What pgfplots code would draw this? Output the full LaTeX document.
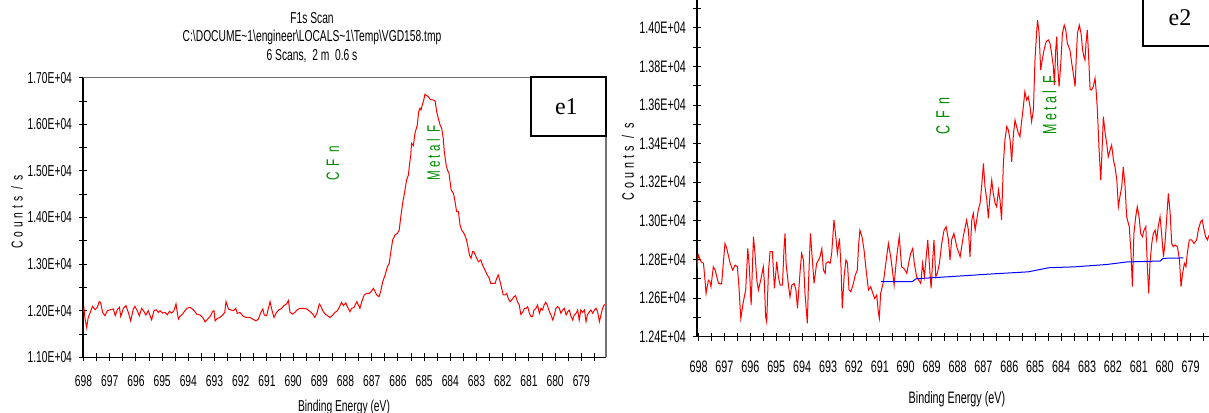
\documentclass[border=0pt]{standalone}
\usepackage{fontspec}
\setmainfont{Liberation Sans}[FakeStretch=0.65]
\newfontfamily\spaced{Liberation Sans}[FakeStretch=0.65, LetterSpace=25]
\newfontfamily\annfont{Liberation Sans}[FakeStretch=0.65, LetterSpace=18]
\newfontfamily\boxfont{Liberation Serif}
\usepackage{pgfplots}
\pgfplotsset{compat=1.18}
\definecolor{fgreen}{RGB}{0,140,0}

\pgfplotsset{
  xps/.style={
    scale only axis,
    anchor=south west,
    x dir=reverse,
    axis x line=bottom, axis y line=left,
    axis line style={-, black, line width=0.6pt},
    xtick={678,...,699},
    minor x tick num=1,
    minor y tick num=1,
    scaled ticks=false,
    tick style={black, line width=0.5pt},
    major tick length=4pt, minor tick length=4pt,
    tick align=center,
    /pgf/number format/assume math mode=true,
  }
}

\begin{document}
\begin{tikzpicture}
\useasboundingbox (0,0) rectangle (604.5pt,206pt);
\clip (0,0) rectangle (604.5pt,206pt);

% ---- e1 ----
\begin{axis}[xps,
  at={(41.5pt,27.35pt)}, width=261.35pt, height=139.8pt,
  xmin=678.07, xmax=698.02, ymin=11000, ymax=17000,
  ytick={11000,12000,...,17000},
  yticklabels={1.10E+04,1.20E+04,1.30E+04,1.40E+04,1.50E+04,1.60E+04,1.70E+04},
  xticklabel style={font=\fontsize{7.9}{9}\selectfont, yshift=-3.5pt},
  yticklabel style={font=\fontsize{7.9}{9}\selectfont},
]
\addplot[red, line width=0.5pt] coordinates {
(698.00,11964) (697.98,12037) (697.94,11819) (697.88,11638) (697.82,11855) (697.73,11979) (697.66,12094) (697.56,12022) (697.47,12073) (697.40,12196) (697.35,12181) (697.27,11964) (697.18,11892) (697.09,12000) (696.96,12022) (696.86,12037) (696.79,11892) (696.71,12022) (696.63,12073) (696.58,11877) (696.48,12051) (696.38,12109) (696.29,11964) (696.20,11783) (696.10,12037) (696.04,12094) (695.95,12000) (695.87,11892) (695.78,12051) (695.69,11979) (695.62,11906) (695.53,12000) (695.46,11892) (695.40,11805) (695.31,12000) (695.23,12022) (695.14,11964) (695.08,12000) (694.98,11950) (694.89,11964) (694.80,11913) (694.72,11986) (694.64,11950) (694.55,12000) (694.47,12145) (694.38,11819) (694.32,11877) (694.22,11928) (694.13,12000) (694.04,12058) (693.94,12073) (693.81,12022) (693.68,11928) (693.55,11906) (693.45,11855) (693.36,11761) (693.24,11834) (693.15,11892) (693.07,11986) (693.02,12000) (692.98,11783) (692.89,11834) (692.79,11855) (692.69,11906) (692.61,11964) (692.56,12196) (692.47,12037) (692.38,12015) (692.28,12000) (692.19,12051) (692.13,11942) (692.03,11964) (691.90,11877) (691.77,11855) (691.65,11855) (691.54,11819) (691.42,11783) (691.33,11819) (691.24,11950) (691.16,12037) (691.10,11906) (691.01,11892) (690.95,12037) (690.88,12196) (690.82,12037) (690.73,11855) (690.63,11964) (690.53,12022) (690.44,12051) (690.35,12109) (690.25,12145) (690.18,12218) (690.12,11964) (690.02,11928) (689.93,11964) (689.84,12022) (689.74,12051) (689.61,12051) (689.48,12037) (689.35,11979) (689.25,11928) (689.17,11855) (689.08,11964) (689.00,12145) (688.95,12109) (688.87,12000) (688.78,11928) (688.69,11892) (688.59,11855) (688.49,11906) (688.40,11964) (688.31,12000) (688.24,12073) (688.15,12181) (688.08,12109) (687.99,12167) (687.89,12037) (687.83,11979)
(687.77,12051) (687.68,12065) (687.57,12194) (687.51,12122) (687.45,12051) (687.38,12194) (687.29,12337) (687.19,12373) (687.09,12373) (687.00,12423) (686.94,12480) (686.87,12409) (686.81,12337) (686.72,12301) (686.66,12409) (686.58,12623) (686.49,12766) (686.40,12945) (686.33,13017) (686.28,13231) (686.20,13517) (686.11,13625) (686.02,13660) (685.95,13732) (685.89,14018) (685.82,14304) (685.73,14590) (685.67,14805) (685.60,14912) (685.56,15127) (685.51,15341) (685.48,15592) (685.41,15542) (685.35,15806) (685.26,15985) (685.21,16271) (685.16,16343) (685.12,16307) (685.07,16414) (685.00,16557) (684.97,16643) (684.90,16615) (684.84,16593) (684.78,16543) (684.71,16522) (684.65,16522) (684.58,16500) (684.52,16271) (684.46,16128) (684.39,15985) (684.33,15914) (684.27,15699) (684.23,15413) (684.16,15127) (684.11,15019) (684.05,14948) (683.97,14590) (683.88,14519) (683.82,14340) (683.76,14125) (683.69,14125) (683.63,13839) (683.57,13732) (683.48,13660) (683.40,13553) (683.34,13410) (683.27,13195) (683.21,13124) (683.15,13267) (683.10,13267) (683.02,13160) (682.93,13052) (682.84,13088) (682.77,12981) (682.68,12874) (682.59,12766) (682.51,12695) (682.46,12587) (682.38,12587) (682.29,12587) (682.23,12695) (682.17,12766) (682.10,12623) (682.04,12480) (681.98,12337) (681.91,12337) (681.85,12373) (681.79,12266) (681.72,12194) (681.66,12230) (681.57,12301) (681.51,12323) (681.44,12194) (681.37,12122) (681.31,11922) (681.24,11965) (681.17,12051) (681.11,12051) (681.05,12087) (680.98,11944) (680.92,11872) (680.86,11872) (680.81,12015) (680.73,12051) (680.67,12122) (680.60,11944) (680.54,12051) (680.48,12015) (680.42,12122) (680.36,12180) (680.30,12122) (680.22,11979) (680.16,11908) (680.09,11800) (680.03,11908) (679.97,12051) (679.90,12087) (679.84,12051) (679.78,11944) (679.71,12015) (679.65,12051) (679.58,11908) (679.52,11979) (679.46,12015) (679.39,11872) (679.33,11800) (679.27,11908) (679.20,11944) (679.14,12015) (679.08,11800) (679.02,12015) (678.95,11965) (678.88,12015) (678.82,11765) (678.77,11908) (678.69,11979) (678.63,12015) (678.57,11944) (678.50,12015) (678.44,12051) (678.38,11979) (678.31,11765) (678.25,11908) (678.19,12051) (678.13,12122) (678.07,12137)
};
\node[rotate=90, anchor=west, text=fgreen, font=\annfont\fontsize{9}{10}\selectfont] at (axis cs:688.48,14633) {C F n};
\node[rotate=90, anchor=west, text=fgreen, font=\annfont\fontsize{9}{10}\selectfont] at (axis cs:684.64,14633) {Metal F};
\end{axis}
\draw[black!55, line width=0.8pt] (41.5pt,167.15pt) -- (302.85pt,167.15pt) -- (302.85pt,27.35pt);
\draw[line width=1pt] (265.5pt,138pt) rectangle (302.85pt,167.65pt);
\node[font=\boxfont\fontsize{12}{12}\selectfont] at (283.2pt,152.5pt) {e1};

\node[font=\fontsize{7.9}{9}\selectfont] at (156pt,197pt) {F1s Scan};
\node[font=\fontsize{7.9}{9}\selectfont] at (156pt,187.5pt) {C:\textbackslash DOCUME\textasciitilde 1\textbackslash engineer\textbackslash LOCALS\textasciitilde 1\textbackslash Temp\textbackslash VGD158.tmp};
\node[font=\fontsize{7.9}{9}\selectfont] at (156pt,178pt) {6 Scans,\ \ 2 m\ \ 0.6 s};
\node[rotate=90, font=\spaced\fontsize{7.9}{9}\selectfont] at (8.5pt,100pt) {Counts / s};
\node[anchor=base, font=\fontsize{7.9}{9}\selectfont] at (172pt,0.5pt) {Binding Energy (eV)};

% ---- e2 ----
\begin{axis}[xps,
  at={(348.5pt,37.65pt)}, width=256pt, height=168.35pt,
  xmin=678.29, xmax=698.06, ymin=12400, ymax=14144,
  ytick={12400,12600,...,14200},
  yticklabels={1.24E+04,1.26E+04,1.28E+04,1.30E+04,1.32E+04,1.34E+04,1.36E+04,1.38E+04,1.40E+04,1.42E+04},
  xticklabel style={font=\fontsize{8.3}{9}\selectfont, yshift=-6.5pt},
  yticklabel style={font=\fontsize{8.3}{9}\selectfont},
]
\addplot[red, line width=0.5pt] coordinates {
(698.06,12754) (698.01,12823) (697.90,12788) (697.81,12780) (697.75,12693) (697.71,12624) (697.62,12693) (697.56,12685) (697.52,12659) (697.43,12762) (697.36,12745) (697.23,12676) (697.11,12673) (696.98,12883) (696.91,12857) (696.78,12780) (696.68,12745) (696.59,12771) (696.50,12762) (696.44,12659) (696.37,12495) (696.27,12581) (696.18,12642) (696.10,12857) (696.04,12762) (695.97,12564) (695.88,12918) (695.82,12831) (695.75,12693) (695.69,12642) (695.60,12693) (695.50,12762) (695.46,12685) (695.41,12503) (695.37,12477) (695.30,12737) (695.24,12840) (695.15,12840) (695.07,12650) (694.98,12788) (694.92,12711) (694.85,12667) (694.76,12667) (694.70,12857) (694.66,12935) (694.62,12780) (694.53,12667) (694.47,12607) (694.40,12667) (694.31,12676) (694.24,12642) (694.18,12547) (694.08,12737) (694.02,12831) (693.95,12797) (693.89,12624) (693.80,12469) (693.76,12659) (693.68,12935) (693.60,12788) (693.54,12676) (693.44,12780) (693.37,12797) (693.31,12814) (693.24,12857) (693.18,12745) (693.11,12728)
(693.08,12780) (692.99,12788) (692.92,12780) (692.86,12831) (692.77,13004) (692.70,12918) (692.64,12831) (692.56,12909) (692.50,12762) (692.45,12547) (692.38,12711) (692.31,12797) (692.25,12780) (692.19,12642) (692.12,12633) (692.02,12676) (691.95,12719) (691.87,12745) (691.82,12875) (691.77,12952) (691.69,12918) (691.61,12849) (691.53,12745) (691.44,12642) (691.35,12659) (691.27,12624) (691.20,12598) (691.12,12616) (691.06,12529) (691.02,12495) (690.97,12624) (690.86,12685) (690.77,12780) (690.67,12883) (690.58,12814) (690.50,12728) (690.45,12667) (690.35,12814) (690.25,12918) (690.16,12762) (690.07,12754) (689.96,12728) (689.89,12780) (689.81,12831) (689.73,12857) (689.67,12780) (689.58,12711) (689.50,12693) (689.42,12676) (689.35,12780) (689.28,12711) (689.22,12797) (689.15,12901) (689.09,12780) (689.02,12650) (688.96,12797) (688.91,12901) (688.84,12711) (688.78,12728) (688.70,12780) (688.61,12883) (688.52,12952) (688.44,12970) (688.35,12901) (688.29,12797)
(688.23,12901) (688.14,12935) (688.03,12866) (687.90,12814) (687.78,12918) (687.65,13004) (687.58,12952) (687.52,12814) (687.45,13004) (687.39,13039) (687.32,12952) (687.26,13004) (687.20,13056) (687.13,13091) (687.07,13177) (687.00,13298) (686.94,13177) (686.87,13108) (686.81,13013) (686.75,13125) (686.68,13211) (686.62,13142) (686.55,13091) (686.49,13073) (686.42,13160) (686.36,13108) (686.30,13004) (686.23,13298) (686.17,13419) (686.10,13488) (686.04,13471) (685.97,13419) (685.91,13306) (685.84,13453) (685.78,13522) (685.72,13488) (685.65,13453) (685.59,13436) (685.52,13522) (685.46,13591) (685.40,13669) (685.33,13626) (685.27,13643) (685.20,13591) (685.14,13514) (685.07,13574) (685.01,13833) (684.94,13989) (684.91,14040) (684.85,13971) (684.79,13781) (684.73,13833) (684.66,13885) (684.58,13928) (684.49,13937) (684.43,13919) (684.37,13868) (684.30,13799) (684.26,13704) (684.21,13885) (684.17,13954) (684.13,13799) (684.08,13695) (684.02,13799) (683.95,13971) (683.88,14014) (683.82,13989) (683.76,13919) (683.66,13885) (683.59,13816) (683.53,13764) (683.46,13695)
(683.42,13833) (683.37,13971) (683.30,14014) (683.23,13971) (683.17,13885) (683.12,13850) (683.08,13833) (683.04,13919) (682.99,13989) (682.95,13885) (682.88,13678) (682.82,13678) (682.76,13695) (682.69,13738) (682.65,13678) (682.60,13574) (682.54,13384) (682.47,13211) (682.43,13332) (682.37,13540) (682.30,13453) (682.24,13401) (682.18,13332) (682.11,13367) (682.05,13393) (681.98,13315) (681.92,13280) (681.85,13211) (681.79,13073) (681.73,13125) (681.66,13177) (681.60,13280) (681.53,13177) (681.47,13021) (681.37,12970) (681.30,12831) (681.25,12659) (681.19,12935) (681.12,13021) (681.06,13073) (680.99,13021) (680.93,12935) (680.86,12918) (680.80,12952) (680.73,12970) (680.67,12762) (680.62,12624) (680.57,12780) (680.50,12883) (680.44,12935) (680.37,12952) (680.31,12901) (680.25,12970) (680.18,13021) (680.12,12935) (680.05,12814) (679.99,12883) (679.92,13021) (679.86,13142) (679.79,13039) (679.73,12883) (679.67,12866) (679.60,12875) (679.51,12866) (679.43,12797) (679.37,12659) (679.31,12728) (679.24,12780) (679.18,12762) (679.13,12831) (679.05,12901) (678.96,12901) (678.87,12883) (678.77,12901) (678.69,12961) (678.61,12996) (678.55,13004) (678.48,12952) (678.42,12918) (678.35,12901) (678.29,12926)
};
\addplot[blue, line width=0.5pt] coordinates {
(690.95,12685) (689.75,12685) (689.60,12700) (688.29,12711) (686.81,12724) (685.27,12736) (684.49,12757) (683.46,12762) (682.24,12774) (681.47,12787) (680.18,12792) (680.05,12806) (679.28,12808)
};
\node[rotate=90, anchor=west, text=fgreen, font=\annfont\fontsize{9.6}{10}\selectfont] at (axis cs:688.56,13410) {C F n};
\node[rotate=90, anchor=west, text=fgreen, font=\annfont\fontsize{9.6}{10}\selectfont] at (axis cs:684.45,13410) {Metal F};
\end{axis}
\draw[line width=1pt] (571.65pt,183.15pt) rectangle (612pt,212pt);
\node[font=\boxfont\fontsize{12}{12}\selectfont] at (590pt,197.25pt) {e2};
\node[rotate=90, font=\spaced\fontsize{8.3}{9}\selectfont] at (314pt,125pt) {Counts / s};
\node[anchor=base, font=\fontsize{8.3}{9}\selectfont] at (478.5pt,4.5pt) {Binding Energy (eV)};
\end{tikzpicture}
\end{document}
